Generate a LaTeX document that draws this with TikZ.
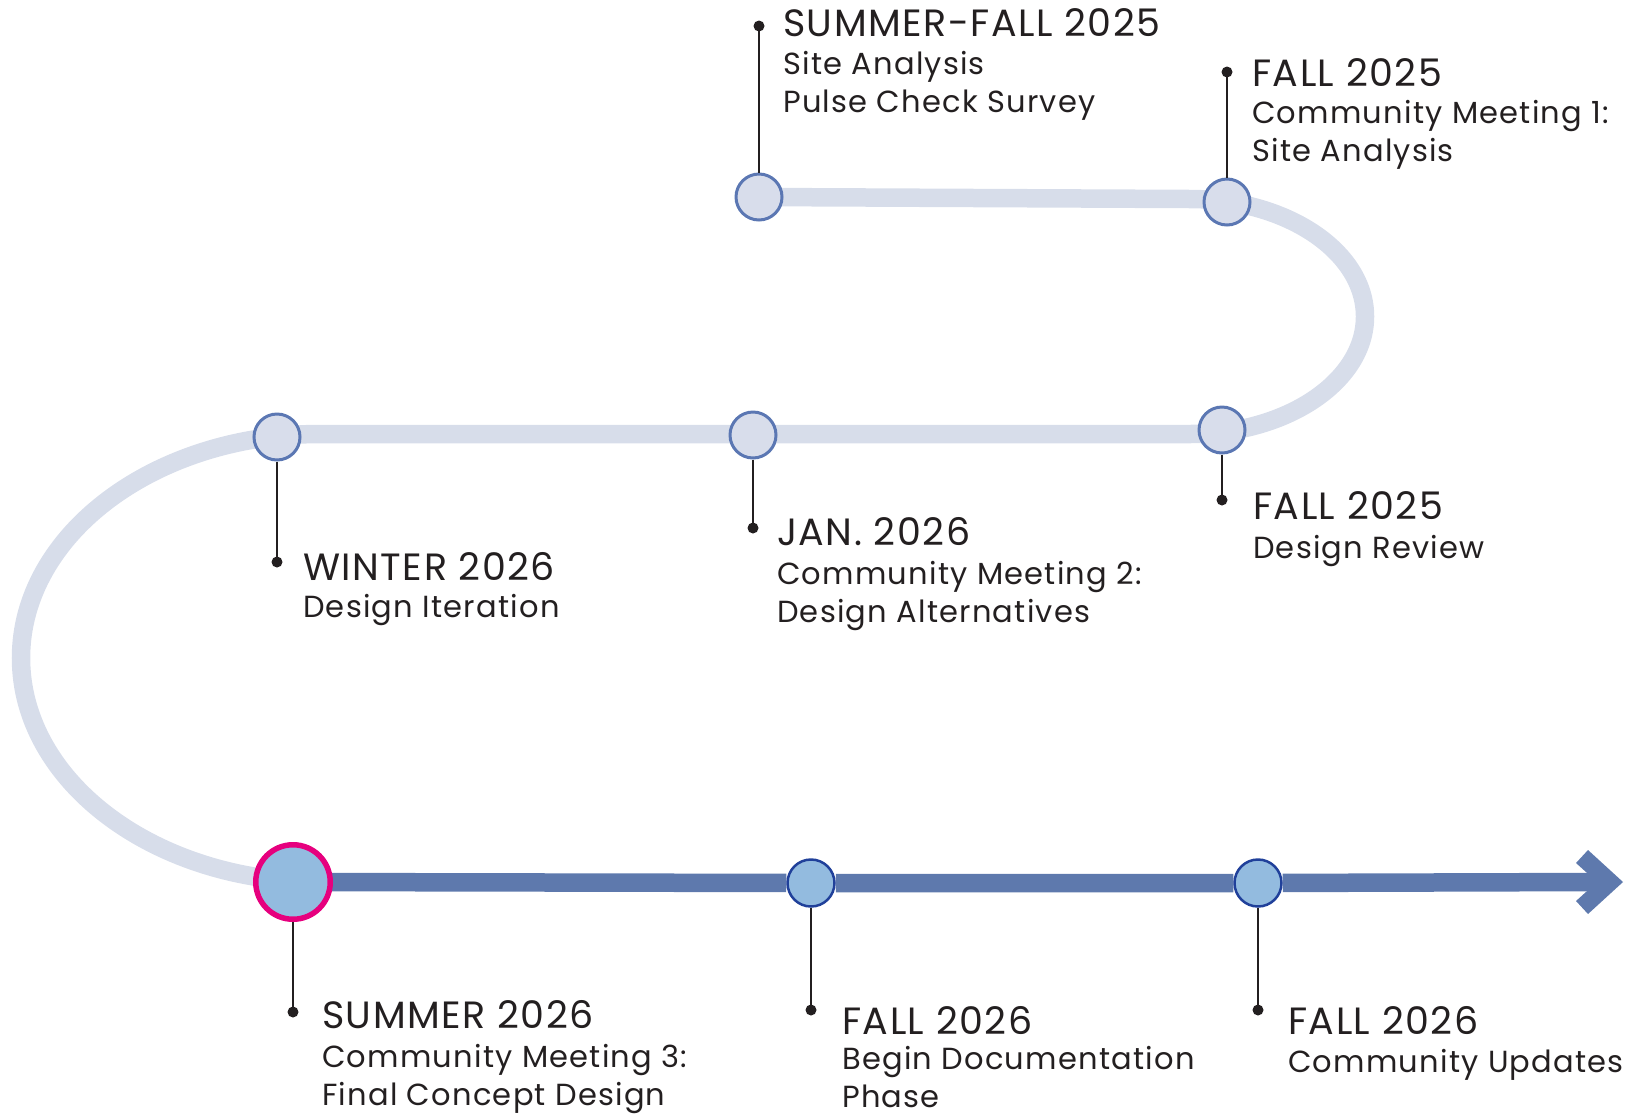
\documentclass[tikz,border=0pt]{standalone}
\usepackage{fontspec}
\setmainfont{Poppins}[LetterSpace=4]
\usetikzlibrary{backgrounds}

\definecolor{ink}{HTML}{231F20}
\definecolor{trackgrey}{HTML}{D7DDEA}
\definecolor{stopgrey}{HTML}{D8DDEB}
\definecolor{ringblue}{HTML}{5B77B3}
\definecolor{barblue}{HTML}{5E79AD}
\definecolor{skyblue}{HTML}{93BBDF}
\definecolor{navy}{HTML}{20409A}
\definecolor{magenta}{HTML}{E6007E}

\newcommand{\titlefont}{\fontsize{38}{40}\selectfont}
\newcommand{\subfont}{\fontsize{30.5}{37.5}\selectfont}

\begin{document}
\begin{tikzpicture}[x=1pt, y=-1pt,
	track/.style={line width=18.5pt, trackgrey},
	bar/.style={line width=18.5pt, barblue},
	pastnode/.style={circle, draw=ringblue, line width=3pt, fill=stopgrey, minimum size=46pt, inner sep=0pt},
	nextnode/.style={circle, draw=navy, line width=2.5pt, fill=skyblue, minimum size=47pt, inner sep=0pt},
	nownode/.style={circle, draw=magenta, line width=5.5pt, fill=skyblue, minimum size=74.5pt, inner sep=0pt},
	pin/.style={circle, fill=ink, minimum size=11pt, inner sep=0pt},
	stem/.style={ink, line width=2.8pt},
	title/.style={anchor=base west, inner sep=0pt, text=ink, font=\titlefont},
	sub/.style={anchor=base west, inner sep=0pt, text=ink, font=\subfont, align=left}]

	\useasboundingbox (0,0) rectangle (1633,1117);

	% Stops
	\node[pastnode] (A) at (759,197) {};
	\node[pastnode] (B) at (1227,202) {};
	\node[pastnode] (C) at (1222,430) {};
	\node[pastnode] (D) at (753,435) {};
	\node[pastnode] (E) at (277,437) {};
	\node[nownode]  (F) at (293,882) {};
	\node[nextnode] (G) at (811,883) {};
	\node[nextnode] (H) at (1258,883) {};

	% Track
	\begin{scope}[on background layer]
		\draw[track] (A.center) -- (1190,199)
			arc[start angle=-90, end angle=90, x radius=175, y radius=117.5]
			-- (320,434)
			arc[start angle=-90, end angle=-270, x radius=299, y radius=224];
		\draw[bar] (F.center) -- (G) -- (H) -- (1600,882);
		\fill[barblue] (1623,882) -- (1588,850) -- (1576,863) -- (1597,882)
			-- (1576,901) -- (1588,914) -- cycle;
	\end{scope}

	% Pins
	\node[pin] (Apin) at (759,26) {};
	\node[pin] (Bpin) at (1227,72) {};
	\node[pin] (Cpin) at (1222,500) {};
	\node[pin] (Dpin) at (753,528) {};
	\node[pin] (Epin) at (277,562) {};
	\node[pin] (Fpin) at (293,1012) {};
	\node[pin] (Gpin) at (811,1010) {};
	\node[pin] (Hpin) at (1258,1010) {};
	\foreach \s in {A,B,C,D,E,F,G,H}
		\draw[stem] (\s) -- (\s pin.center);

	% Labels (base = last line)
	\node[title] (Atitle) at (783,36) {SUMMER-FALL 2025};
	\node[sub]   (Asub)   at (783,112) {Site Analysis\\Pulse Check Survey};
	\node[title] (Btitle) at (1252,86) {FALL 2025};
	\node[sub]   (Bsub)   at (1252,161) {Community Meeting 1:\\Site Analysis};
	\node[title] (Ctitle) at (1253,519) {FALL 2025};
	\node[sub]   (Csub)   at (1253,558) {Design Review};
	\node[title] (Dtitle) at (777,545) {JAN. 2026};
	\node[sub]   (Dsub)   at (777,622) {Community Meeting 2:\\Design Alternatives};
	\node[title] (Etitle) at (303,580) {WINTER 2026};
	\node[sub]   (Esub)   at (303,617) {Design Iteration};
	\node[title] (Ftitle) at (322,1028) {SUMMER 2026};
	\node[sub]   (Fsub)   at (322,1105) {Community Meeting 3:\\Final Concept Design};
	\node[title] (Gtitle) at (842,1034) {FALL 2026};
	\node[sub]   (Gsub)   at (842,1107) {Begin Documentation\\Phase};
	\node[title] (Htitle) at (1288,1034) {FALL 2026};
	\node[sub]   (Hsub)   at (1288,1072) {Community Updates};

\end{tikzpicture}
\end{document}
